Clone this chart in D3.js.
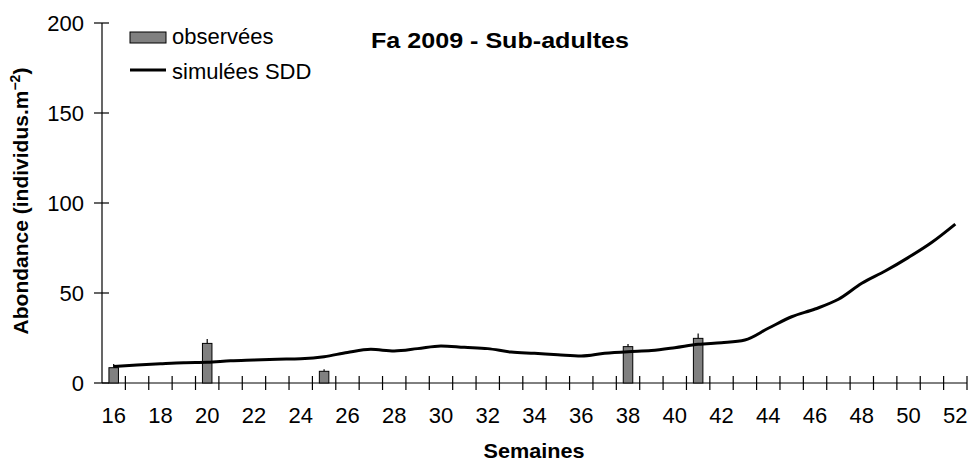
<!DOCTYPE html>
<html><head><meta charset="utf-8">
<script src="https://cdn.jsdelivr.net/npm/d3@7"></script>
<style>body{margin:0;background:#fff}svg{display:block}text{font-family:"Liberation Sans",Arial,sans-serif;fill:#000}</style>
</head><body>
<svg id="c" width="970" height="467"></svg>
<script>
const weeks = d3.range(16, 53);
const simulated = [9.1,10,10.7,11.3,11.5,12.4,12.8,13.2,13.5,14.6,17,18.7,17.8,19.1,20.6,19.8,19.1,17.2,16.5,15.7,15,16.5,17.4,18,19.6,21.5,22.4,23.9,30.4,36.8,41.1,46.5,55.4,62.2,69.8,78.2,88.3];
const obsWeeks = [16, 20, 25, 38, 41];
const observed = [8.5, 22, 6.5, 20.2, 24.8];
const obsErr = [2, 2.4, 1.2, 1.5, 2.7];
const yTicks = [0, 50, 100, 150, 200];
const xTickLabels = d3.range(16, 53, 2);

const svg = d3.select("#c");
const x = d3.scaleBand().domain(weeks).range([102, 967]).padding(0);
const y = d3.scaleLinear().domain([0, 200]).range([383, 23]);
const bw = x.bandwidth();
const cx = w => x(w) + bw / 2;

// Y axis
svg.append("line").attr("x1",102).attr("x2",102).attr("y1",y(200)).attr("y2",y(0)).attr("stroke","#000").attr("stroke-width",1.2);
svg.selectAll(".yt").data(yTicks).join("line").attr("x1",94).attr("x2",109).attr("y1",d=>y(d)).attr("y2",d=>y(d)).attr("stroke","#000").attr("stroke-width",1.2);
svg.selectAll(".yl").data(yTicks).join("text").attr("x",84).attr("y",d=>y(d)+8).attr("text-anchor","end").attr("font-size",22).text(d=>d);

// X axis
svg.append("line").attr("x1",102).attr("x2",967).attr("y1",y(0)).attr("y2",y(0)).attr("stroke","#000").attr("stroke-width",1);
const bounds = weeks.map(w => x(w)).concat([x(52) + bw]);
svg.selectAll(".xt").data(bounds.slice(1)).join("line").attr("x1",d=>d).attr("x2",d=>d).attr("y1",y(0)-7).attr("y2",y(0)+7).attr("stroke","#000").attr("stroke-width",1.2);
svg.selectAll(".xl").data(xTickLabels).join("text").attr("x",d=>cx(d)).attr("y",423).attr("text-anchor","middle").attr("font-size",22).text(d=>d);

// Bars
const obs = obsWeeks.map((w,i)=>({w, v:observed[i], e:obsErr[i]}));
svg.selectAll(".err").data(obs).join("line").attr("x1",d=>cx(d.w)).attr("x2",d=>cx(d.w)).attr("y1",d=>y(d.v)).attr("y2",d=>y(d.v+d.e)).attr("stroke","#000").attr("stroke-width",1.2);
svg.selectAll(".bar").data(obs).join("rect").attr("x",d=>cx(d.w)-4.75).attr("width",9.5).attr("y",d=>y(d.v)).attr("height",d=>y(0)-y(d.v)).attr("fill","#808080").attr("stroke","#000").attr("stroke-width",1);

// Line
const line = d3.line().x((d,i)=>cx(weeks[i])).y(d=>y(d)).curve(d3.curveMonotoneX);
svg.append("path").datum(simulated).attr("d",line).attr("fill","none").attr("stroke","#000").attr("stroke-width",3).attr("stroke-linejoin","round");

// Legend
svg.append("rect").attr("x",130).attr("y",32).attr("width",36).attr("height",11).attr("fill","#808080").attr("stroke","#000").attr("stroke-width",1);
svg.append("text").attr("x",172).attr("y",44).attr("font-size",22).text("observées");
svg.append("line").attr("x1",130).attr("x2",166).attr("y1",70).attr("y2",70).attr("stroke","#000").attr("stroke-width",3);
svg.append("text").attr("x",172).attr("y",79).attr("font-size",22).text("simulées SDD");

// Title
svg.append("text").attr("x",371).attr("y",48).attr("font-size",22).attr("font-weight","bold")
  .attr("textLength",258).attr("lengthAdjust","spacingAndGlyphs").text("Fa 2009 - Sub-adultes");

// Axis titles
svg.append("text").attr("x",534).attr("y",458).attr("text-anchor","middle").attr("font-size",21).attr("font-weight","bold")
  .attr("textLength",101).attr("lengthAdjust","spacingAndGlyphs").text("Semaines");
const yl = svg.append("text").attr("transform","translate(28,201) rotate(-90)").attr("text-anchor","middle").attr("font-size",21).attr("font-weight","bold");
yl.append("tspan").text("Abondance (individus.m");
yl.append("tspan").attr("font-size",14).attr("dy",-8).text("−2");
yl.append("tspan").attr("dy",8).text(")");
</script>
</body></html>
